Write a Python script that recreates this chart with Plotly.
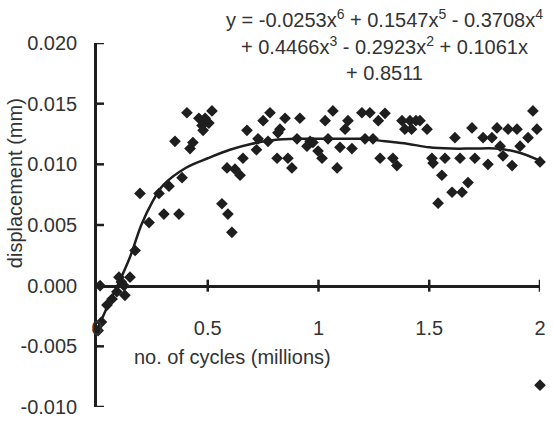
import plotly.graph_objects as go

# Measured displacement vs. load cycles
cycles = [0.005, 0.02, 0.014, 0.045, 0.068, 0.09, 0.099, 0.11, 0.122, 0.126, 0.149,
          0.172, 0.194, 0.235, 0.28, 0.302, 0.325, 0.37, 0.384, 0.352, 0.406, 0.42,
          0.433, 0.46, 0.474, 0.479, 0.488, 0.505, 0.519,
          0.564, 0.591, 0.609, 0.587, 0.623, 0.646, 0.659, 0.677, 0.72, 0.727, 0.75,
          0.772, 0.781, 0.813, 0.817, 0.826, 0.849, 0.862, 0.88, 0.903, 0.916, 0.948,
          0.962, 0.975, 0.998, 1.016, 1.03, 1.043, 1.065, 1.084, 1.097, 1.12, 1.133,
          1.151, 1.196, 1.21, 1.232, 1.246, 1.27, 1.278, 1.3, 1.336, 1.354, 1.377,
          1.39, 1.413, 1.42, 1.44, 1.458, 1.49, 1.512, 1.517, 1.54, 1.557, 1.571,
          1.603, 1.616, 1.639, 1.648, 1.675, 1.693, 1.706, 1.743, 1.765, 1.783,
          1.806, 1.82, 1.833, 1.856, 1.874, 1.896, 1.91, 1.946, 1.968, 1.986,
          2.0, 2.0]
disp = [-0.0037, -0.0030, 0.0000, -0.0016, -0.0011, -0.0005, 0.0007, 0.0003, 0.0000, -0.0008, 0.0007,
        0.0029, 0.0076, 0.0052, 0.0076, 0.0059, 0.0082, 0.0059, 0.0089, 0.0119, 0.01425, 0.0113,
        0.0118, 0.0138, 0.0132, 0.0128, 0.0138, 0.0134, 0.0144,
        0.00675, 0.0059, 0.0044, 0.0097, 0.0096, 0.0091, 0.0105, 0.0128, 0.0112, 0.0121, 0.0136,
        0.0119, 0.01425, 0.0105, 0.0126, 0.0129, 0.0138, 0.0105, 0.0097, 0.0121, 0.0138, 0.0115,
        0.0119, 0.0118, 0.0111, 0.0105, 0.0136, 0.0121, 0.0144, 0.0097, 0.0114, 0.0129, 0.0136,
        0.0113, 0.01425, 0.0121, 0.01425, 0.0121, 0.0136, 0.0105, 0.0142, 0.0105, 0.0099, 0.0136,
        0.0129, 0.0136, 0.0129, 0.0136, 0.0136, 0.0129, 0.0105, 0.0101, 0.0068, 0.0091, 0.0105,
        0.0077, 0.0122, 0.0105, 0.0077, 0.0085, 0.0130, 0.0105, 0.0122, 0.0100, 0.0122,
        0.0130, 0.0115, 0.0107, 0.0129, 0.0099, 0.0129, 0.0115, 0.0122, 0.0144, 0.0129,
        0.0102, -0.0082]

# Polynomial trendline, sampled along the cycle axis
trend_cycles = [0.0, 0.05, 0.1, 0.15, 0.2, 0.25, 0.3, 0.4, 0.5, 0.6, 0.7, 0.8, 0.9,
                1.0, 1.1, 1.2, 1.3, 1.4, 1.5, 1.6, 1.7, 1.8, 1.9, 2.0]
trend_disp = [-0.0037, -0.0016, 0.0003, 0.0024, 0.0050, 0.0069, 0.0083, 0.0097, 0.0105,
              0.0112, 0.0117, 0.0120, 0.0121, 0.0121, 0.0121, 0.0121, 0.0119, 0.0117,
              0.0114, 0.0113, 0.0113, 0.0113, 0.0110, 0.0103]

x_ticks = [0, 0.5, 1, 1.5, 2]
x_tick_text = ["0", "0.5", "1", "1.5", "2"]
y_ticks = [-0.010, -0.005, 0.0, 0.005, 0.010, 0.015, 0.020]
y_tick_text = ["-0.010", "-0.005", "0.000", "0.005", "0.010", "0.015", "0.020"]

equation_lines = [
    "y = -0.0253x<sup>6</sup> + 0.1547x<sup>5</sup> - 0.3708x<sup>4</sup>",
    "+ 0.4466x<sup>3</sup> - 0.2923x<sup>2</sup> + 0.1061x",
    "+ 0.8511",
]

INK = "#1e1e1e"
TEXT = "#333333"
FONT = "Liberation Sans, Arial, sans-serif"

fig = go.Figure()
fig.add_trace(go.Scatter(x=cycles, y=disp, mode="markers", cliponaxis=False,
                         marker=dict(symbol="diamond", size=9, color=INK, line=dict(width=0))))
fig.add_trace(go.Scatter(x=trend_cycles, y=trend_disp, mode="lines", cliponaxis=False,
                         line=dict(color=INK, width=2.5, shape="spline", smoothing=1.0)))

shapes = []
for v in y_ticks:
    shapes.append(dict(type="line", xref="x", yref="y", xsizemode="pixel", xanchor=0,
                       x0=-7, x1=7, y0=v, y1=v, line=dict(color=INK, width=2.5)))
for v in x_ticks[1:]:
    shapes.append(dict(type="line", xref="x", yref="y", ysizemode="pixel", yanchor=0,
                       y0=-6, y1=6, x0=v, x1=v, line=dict(color=INK, width=2.5)))

annotations = [
    dict(text="displacement (mm)", xref="paper", yref="paper", x=-0.185, y=0.615,
         textangle=-90, showarrow=False, xanchor="center", yanchor="middle"),
    dict(text="no. of cycles (millions)", xref="paper", yref="paper", x=0.305, y=0.137,
         showarrow=False, xanchor="center", yanchor="middle"),
]
for line, ypos in zip(equation_lines, [1.066, 0.992, 0.918]):
    annotations.append(dict(text=line, xref="paper", yref="paper", x=0.648, y=ypos,
                            showarrow=False, xanchor="center", yanchor="middle"))

fig.update_layout(
    width=553, height=422,
    margin=dict(l=97, r=13, t=43, b=15, autoexpand=False),
    paper_bgcolor="white", plot_bgcolor="white",
    showlegend=False,
    font=dict(family=FONT, size=20, color=TEXT),
    xaxis=dict(range=[0, 2], anchor="free", position=1/3, showline=True, automargin=False,
               linecolor=INK, linewidth=2.5, showgrid=False, zeroline=False,
               tickvals=x_ticks, ticktext=x_tick_text, ticks="", ticklabelstandoff=24),
    yaxis=dict(range=[-0.01, 0.02], showline=True, linecolor=INK, linewidth=2.5, automargin=False,
               showgrid=False, zeroline=False, tickvals=y_ticks, ticktext=y_tick_text,
               ticks="", ticklabelstandoff=13),
    shapes=shapes,
    annotations=annotations,
)

fig.write_html("out.html")
